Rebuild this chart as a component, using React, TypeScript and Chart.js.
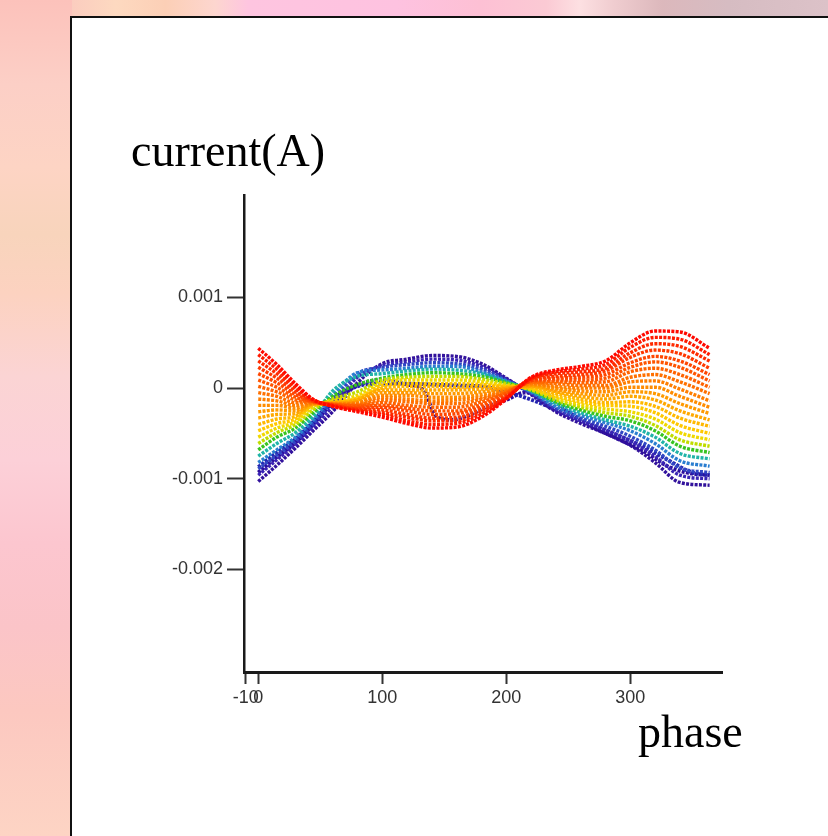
import React, { useEffect, useRef } from "react";
import { Chart, registerables } from "chart.js";

Chart.register(...registerables);

// phase (deg) sample positions shared by the main family of curves
const phases = [0, 15, 30, 45, 60, 80, 100, 120, 140, 160, 180, 200, 220, 240, 260, 280, 300, 320, 340, 364];

// current values in units of 1e-4 A (0.0001 A)
const c00 = [4.4, 2.6, 0.5, -1.3, -2.0, -2.6, -3.2, -3.9, -4.4, -4.3, -3.2, -1.2, 1.2, 2.0, 2.4, 3.0, 5.0, 6.3, 6.2, 4.4];
const c01 = [3.7, 2.1, 0.2, -1.3, -2.0, -2.5, -2.9, -3.6, -4.0, -3.9, -2.9, -1.1, 1.1, 1.8, 2.1, 2.6, 4.5, 5.6, 5.4, 3.7];
const c02 = [3.0, 1.6, -0.1, -1.4, -1.9, -2.4, -2.7, -3.2, -3.6, -3.6, -2.6, -1.0, 1.0, 1.6, 1.8, 2.2, 3.9, 4.9, 4.6, 3.0];
const c03 = [2.3, 1.1, -0.4, -1.4, -1.9, -2.3, -2.4, -2.9, -3.3, -3.2, -2.4, -0.9, 0.9, 1.3, 1.5, 1.9, 3.4, 4.2, 3.8, 2.2];
const c04 = [1.6, 0.6, -0.7, -1.5, -1.9, -2.2, -2.1, -2.5, -2.9, -2.8, -2.1, -0.8, 0.8, 1.1, 1.2, 1.5, 2.8, 3.5, 3.0, 1.5];
const c05 = [0.9, 0.1, -1.0, -1.5, -1.8, -2.0, -1.9, -2.2, -2.5, -2.5, -1.8, -0.6, 0.8, 0.9, 0.9, 1.1, 2.3, 2.9, 2.3, 0.8];
const c06 = [0.2, -0.4, -1.3, -1.5, -1.8, -1.9, -1.6, -1.9, -2.1, -2.1, -1.5, -0.5, 0.7, 0.7, 0.6, 0.7, 1.8, 2.2, 1.5, 0.1];
const c07 = [-0.5, -0.9, -1.6, -1.6, -1.8, -1.8, -1.3, -1.5, -1.7, -1.7, -1.2, -0.4, 0.6, 0.5, 0.3, 0.3, 1.2, 1.5, 0.7, -0.6];
const c08 = [-1.2, -1.4, -1.9, -1.6, -1.8, -1.7, -1.0, -1.2, -1.4, -1.3, -1.0, -0.3, 0.5, 0.2, 0.0, 0.0, 0.7, 0.8, -0.1, -1.4];
const c09 = [-1.9, -1.9, -2.2, -1.7, -1.7, -1.6, -0.8, -0.8, -1.0, -1.0, -0.7, -0.2, 0.4, 0.0, -0.3, -0.4, 0.1, 0.1, -0.9, -2.1];
const c10 = [-2.6, -2.4, -2.5, -1.7, -1.7, -1.5, -0.5, -0.5, -0.6, -0.6, -0.4, -0.1, 0.3, -0.2, -0.6, -0.8, -0.4, -0.6, -1.7, -2.8];
const c11 = [-3.3, -2.9, -2.8, -1.7, -1.7, -1.3, -0.2, -0.2, -0.2, -0.2, -0.1, 0.0, 0.2, -0.4, -0.9, -1.2, -0.9, -1.3, -2.5, -3.5];
const c12 = [-4.0, -3.4, -3.1, -1.8, -1.6, -1.2, 0.0, 0.2, 0.2, 0.1, 0.2, 0.1, 0.1, -0.6, -1.2, -1.6, -1.5, -2.0, -3.3, -4.2];
const c13 = [-4.7, -3.9, -3.4, -1.8, -1.6, -1.1, 0.3, 0.5, 0.5, 0.5, 0.4, 0.2, 0.0, -0.9, -1.5, -1.9, -2.0, -2.7, -4.1, -5.0];
const c14 = [-5.4, -4.4, -3.7, -2.0, -1.4, -0.8, 0.6, 0.9, 0.9, 0.9, 0.7, 0.3, -0.1, -1.1, -1.8, -2.3, -2.6, -3.4, -4.9, -5.7];
const c15 = [-6.1, -4.9, -4.0, -2.3, -1.2, -0.4, 0.9, 1.2, 1.3, 1.3, 1.0, 0.5, -0.2, -1.3, -2.1, -2.7, -3.1, -4.1, -5.7, -6.4];
const c16 = [-6.8, -5.4, -4.4, -2.6, -0.9, 0.4, 1.1, 1.5, 1.7, 1.6, 1.3, 0.6, -0.2, -1.5, -2.4, -3.1, -3.6, -4.7, -6.4, -7.1];
const c17 = [-7.5, -6.1, -4.9, -3.0, -0.3, 1.3, 1.6, 1.9, 2.1, 2.0, 1.6, 0.7, -0.3, -1.7, -2.7, -3.5, -4.2, -5.4, -7.2, -7.8];
const c18 = [-8.2, -6.8, -5.4, -3.4, -0.8, 1.7, 2.0, 2.2, 2.4, 2.4, 1.8, 0.8, -0.4, -2.0, -3.0, -3.8, -4.7, -6.1, -8.0, -8.6];
const c19 = [-8.9, -7.4, -5.8, -3.8, -1.4, 1.6, 2.3, 2.6, 2.8, 2.7, 2.1, 0.9, -0.5, -2.2, -3.3, -4.2, -5.3, -6.8, -8.8, -9.3];
const c20 = [-9.6, -7.9, -6.2, -4.2, -2.0, 1.2, 2.5, 2.9, 3.2, 3.1, 2.4, 1.0, -0.6, -2.4, -3.6, -4.6, -5.8, -7.5, -9.6, -10.0];
const c21 = [-10.3, -8.5, -6.6, -4.6, -2.6, 0.6, 2.7, 3.2, 3.6, 3.5, 2.7, 1.1, -0.7, -2.6, -3.9, -5.0, -6.3, -8.2, -10.4, -10.7];

const familyCurves = [c00, c01, c02, c03, c04, c05, c06, c07, c08, c09, c10, c11, c12, c13, c14, c15, c16, c17, c18, c19, c20, c21];
const familyColors = [
  "#ff0800", "#ff1a00", "#ff2a00", "#ff3800", "#ff4600", "#ff5400",
  "#ff6200", "#ff7000", "#ff7e00", "#ff8c00", "#ff9a00", "#ffa800",
  "#ffb800", "#ffc800", "#f0d800", "#c0dc00", "#38c420", "#20b4a8",
  "#2a7ed0", "#3046c4", "#3a24b4", "#32129c",
];

// two odd purple curves
const dipPhases = [0, 15, 30, 45, 60, 80, 100, 120, 133, 143, 155, 170, 185, 200, 215, 230, 250, 270, 290, 310, 330, 345, 364];
const dipCurve = [-9.3, -7.6, -6.0, -3.9, -1.6, 0.3, 0.9, 0.4, -0.2, -3.0, -3.5, -3.0, -2.0, -1.3, -0.5, -0.6, -2.6, -4.3, -5.6, -6.9, -8.6, -9.3, -9.6];
const flatPhases = [0, 15, 30, 45, 60, 80, 100, 120, 140, 160, 180, 195, 210, 230, 250, 270, 290, 310, 330, 350, 364];
const flatCurve = [-8.7, -7.1, -5.6, -3.6, -1.2, 0.2, 0.5, 0.5, 0.4, 0.3, 0.2, -0.2, -0.8, -1.8, -3.0, -4.1, -5.2, -6.4, -7.9, -9.3, -9.6];
const oddColors = ["#2c0c9c", "#2424b0"];

const xTickValues = [-10, 0, 100, 200, 300];
const xTickLabels = ["-10", "0", "100", "200", "300"];
const yTickValues = [10, 0, -10, -20];
const yTickLabels = ["0.001", "0", "-0.001", "-0.002"];

const toPoints = (xs: number[], ys: number[]) => xs.map((x, k) => ({ x, y: ys[k] }));

function lineSet(xs: number[], ys: number[], color: string, width = 3.4) {
  return {
    data: toPoints(xs, ys),
    borderColor: color,
    backgroundColor: color,
    borderWidth: width,
    borderDash: [3, 1.3],
    pointRadius: 0,
    fill: false,
    cubicInterpolationMode: "monotone" as const,
  };
}

export default function App() {
  const ref = useRef<HTMLCanvasElement | null>(null);

  useEffect(() => {
    if (!ref.current) return;
    const datasets: any[] = familyCurves.map((ys, i) => lineSet(phases, ys, familyColors[i]));
    datasets.push(lineSet(flatPhases, flatCurve, oddColors[1], 3.8));
    datasets.push(lineSet(dipPhases, dipCurve, oddColors[0], 3.8));

    const tickFont = { family: "'Liberation Sans', Arial, sans-serif", size: 18 };
    const chart = new Chart(ref.current, {
      type: "line",
      data: { datasets },
      options: {
        animation: false,
        responsive: false,
        devicePixelRatio: 1,
        layout: { padding: { left: 144, top: 195, right: 106, bottom: 124 } },
        plugins: { legend: { display: false }, tooltip: { enabled: false } },
        scales: {
          x: {
            type: "linear",
            min: -11.5,
            max: 374,
            afterFit: (s: any) => { s.height = 40; },
            afterBuildTicks: (s: any) => { s.ticks = xTickValues.map((v) => ({ value: v })); },
            ticks: {
              autoSkip: false,
              maxRotation: 0,
              padding: 3,
              color: "#333",
              font: tickFont,
              callback: (v: any) => xTickLabels[xTickValues.indexOf(Number(v))] ?? "",
            },
            grid: { drawOnChartArea: false, drawTicks: true, tickLength: 12, tickWidth: 2, tickColor: "#333" },
            border: { display: true, color: "#1a1a1a", width: 3 },
          },
          y: {
            type: "linear",
            min: -31.3,
            max: 21.3,
            afterFit: (s: any) => { s.width = 100; },
            afterBuildTicks: (s: any) => { s.ticks = yTickValues.map((v) => ({ value: v })); },
            ticks: {
              autoSkip: false,
              padding: 4,
              color: "#333",
              font: tickFont,
              callback: (v: any) => yTickLabels[yTickValues.indexOf(Number(v))] ?? "",
            },
            grid: { drawOnChartArea: false, drawTicks: true, tickLength: 17, tickWidth: 2, tickColor: "#333" },
            border: { display: true, color: "#1a1a1a", width: 2.5 },
          },
        },
      },
    });
    return () => chart.destroy();
  }, []);

  const serif = "'Liberation Serif', 'Times New Roman', serif";
  return (
    <div style={{ position: "absolute", left: 0, top: 0, width: 828, height: 836, overflow: "hidden", background: "#fff" }}>
      <div
        style={{
          position: "absolute", left: 0, top: 0, width: 828, height: 18,
          background: "linear-gradient(to right, #fcc2bb 0%, #fbcbbf 8%, #fdd9c0 14%, #fccfb6 20%, #fdd6cf 26%, #fec5e0 30%, #fec2e0 48%, #fdc0d4 58%, #fbcad4 66%, #fde0e2 70%, #f0cdd0 74%, #dcb8bc 80%, #d6bcc2 88%, #dcc2c8 100%)",
        }}
      />
      <div
        style={{
          position: "absolute", left: 0, top: 0, width: 72, height: 836,
          background: "linear-gradient(to bottom, #fcc2bb 0%, #fccfc6 10%, #fdd4c4 20%, #f8d4bc 28%, #fcd2c0 35%, #fbd4d4 45%, #fcd0d8 55%, #fcc6cf 65%, #fbc4c8 75%, #fcc8c0 85%, #fdd4c4 100%)",
        }}
      />
      <div
        style={{
          position: "absolute", left: 70, top: 16, width: 758, height: 820,
          background: "#fff", borderLeft: "2px solid #111", borderTop: "2px solid #111",
        }}
      />
      <canvas
        ref={ref}
        width={828}
        height={836}
        style={{ position: "absolute", left: 0, top: 0, width: 828, height: 836 }}
      />
      <div style={{ position: "absolute", left: 131, top: 128, fontFamily: serif, fontSize: 46, lineHeight: "46px", color: "#000", whiteSpace: "nowrap" }}>
        current(A)
      </div>
      <div style={{ position: "absolute", left: 638, top: 709, fontFamily: serif, fontSize: 46, lineHeight: "46px", color: "#000", whiteSpace: "nowrap" }}>
        phase
      </div>
    </div>
  );
}
